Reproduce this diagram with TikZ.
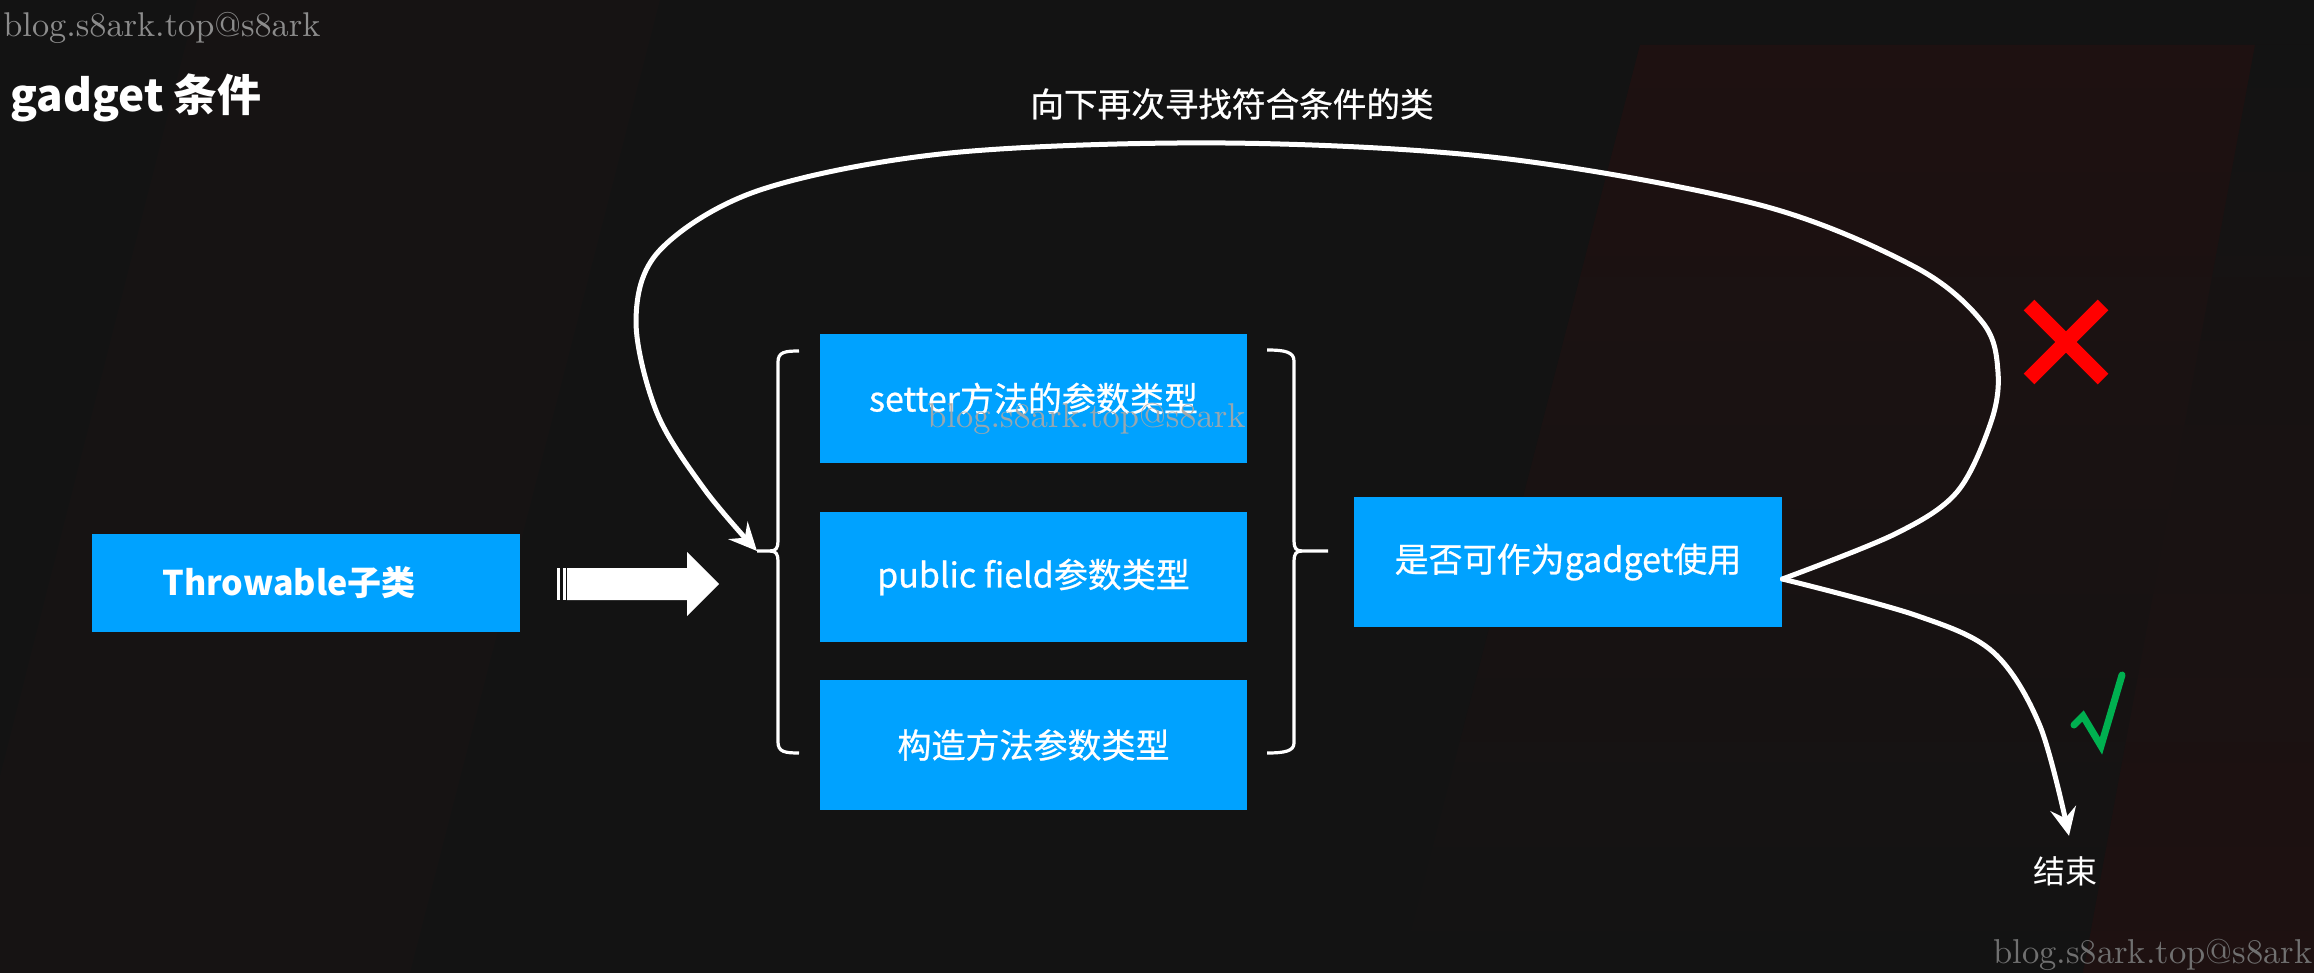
\documentclass[tikz,border=0pt]{standalone}
\usepackage{fontspec}
\usepackage{graphicx}
\setmainfont{Noto Sans CJK SC}
\newfontfamily\medfont[FakeBold=0.7]{Noto Sans CJK SC}
\newfontfamily\wmfont[Extension=.otf]{lmroman10-regular}
\usetikzlibrary{arrows.meta}
\definecolor{bgc}{HTML}{131313}
\definecolor{bgband}{HTML}{161313}
\definecolor{redtint}{HTML}{1E1111}
\definecolor{boxblue}{HTML}{00A2FF}
\definecolor{wmgray}{HTML}{8C8C8C}
\definecolor{wmdim}{HTML}{707070}
\definecolor{wmlight}{HTML}{A8A8A8}
\definecolor{xred}{HTML}{FF0000}
\definecolor{okgreen}{HTML}{00B050}
\begin{document}
\begin{tikzpicture}[x=0.5pt,y=-0.5pt,
  bluebox/.style={fill=boxblue, inner sep=0pt, minimum width=214pt},
  boxtext/.style={text=white, inner sep=0pt, font=\fontsize{17pt}{20pt}\medfont},
  flow/.style={draw=white, line width=2.5pt, line cap=round, -{Stealth[length=14pt,width=13pt,inset=5pt]}},
  bracestyle/.style={draw=white, line width=1.6pt},
  wm/.style={inner sep=0pt, anchor=base west}]
\useasboundingbox (0,0) rectangle (2314,973);
% background
\fill[bgc] (0,0) rectangle (2314,973);
\fill[bgband] (197,0) -- (660,0) -- (410,973) -- (-50,973) -- cycle;
\shade[top color=redtint, bottom color=bgc] (1640,45) -- (2314,45) -- (2314,973) -- (1400,973) -- cycle;
\shade[top color=bgc, bottom color=redtint] (2255,45) -- (2314,45) -- (2314,973) -- (2083,973) -- cycle;

% watermarks
\node[wm, text=wmgray] (wm1) at (3,37) {\resizebox{158.5pt}{!}{\wmfont blog.s8ark.top@s8ark}};
\node[wm, text=wmdim] (wm3) at (1993,963) {\resizebox{159.5pt}{!}{\wmfont blog.s8ark.top@s8ark}};

% title
\node[anchor=west, inner sep=0pt, text=white, font=\fontsize{22pt}{26pt}\selectfont\bfseries] (title) at (10,98) {gadget 条件};

% Throwable box
\node[bluebox, minimum height=49pt] (thr) at (306,583) {};
\node[boxtext, font=\fontsize{17pt}{20pt}\selectfont\bfseries] (thrt) at (289,583) {Throwable子类};

% block arrow
\fill[white] (557,568) rectangle (560,600);
\fill[white] (563,568) rectangle (566,600);
\fill[white] (567,568) -- (687,568) -- (687,552) -- (719,584) -- (687,616) -- (687,600) -- (567,600) -- cycle;

% middle boxes
\node[bluebox, minimum height=64.75pt, minimum width=213.5pt, boxtext] (b1) at (1033.5,398.5) {setter方法的参数类型};
\node[bluebox, minimum height=64.75pt, minimum width=213.5pt, boxtext] (b2) at (1033.5,577) {public field参数类型};
\node[bluebox, minimum height=64.75pt, minimum width=213.5pt, boxtext] (b3) at (1033.5,745) {构造方法参数类型};

\node[wm, text=wmlight, opacity=0.9] (wm2) at (927,427) {\resizebox{159pt}{!}{\wmfont blog.s8ark.top@s8ark}};

% right box
\node[bluebox, minimum height=65pt, boxtext] (q) at (1568,562) {是否可作为gadget使用};

% braces
\coordinate (lbtip) at (757,551);
\draw[bracestyle] (799,351) .. controls (785,351) and (778,352) .. (778,362) -- (778,541)
   .. controls (778,548) and (776,551) .. (770,551) -- (lbtip);
\draw[bracestyle] (770,551) .. controls (776,551) and (778,554) .. (778,561) -- (778,742)
   .. controls (778,752) and (785,753) .. (799,753);
\coordinate (rbtip) at (1328,551);
\draw[bracestyle] (1267,350) .. controls (1285,350) and (1294,352) .. (1294,361) -- (1294,541)
   .. controls (1294,548) and (1296,551) .. (1302,551) -- (rbtip);
\draw[bracestyle] (1302,551) .. controls (1296,551) and (1294,554) .. (1294,561) -- (1294,743)
   .. controls (1294,751) and (1285,753) .. (1267,753);

% loop back curve
\coordinate (qs) at ([yshift=-8.5pt]q.east);
\draw[flow] plot[smooth, tension=0.55] coordinates {(qs) (1895,534) (1957,492) (1991,422) (1998,372) (1983,323) (1915,267) (1760,205) (1500,158) (1225,143) (950,153) (760,190) (660,250) (636,320) (657,413) (705,490) (lbtip)};
\node[text=white, inner sep=0pt, font=\fontsize{16.8pt}{20pt}\medfont] (lbl) at (1232,104) {向下再次寻找符合条件的类};

% end
\node[text=white, inner sep=0pt, font=\fontsize{16pt}{19pt}\selectfont] (jieshu) at (2065,871) {结束};
\draw[flow] plot[smooth, tension=0.55] coordinates {(qs) (1915,615) (1993,652) (2040,726) ([xshift=2pt, yshift=10pt]jieshu.north)};

% marks
\draw[xred, line width=7.5pt] (2029,305) -- (2103,379) (2029,379) -- (2103,305);
\draw[okgreen, line width=3.5pt, line cap=round] (2074,725) -- (2083,716) -- (2101,746) -- (2122,675);
\end{tikzpicture}
\end{document}
